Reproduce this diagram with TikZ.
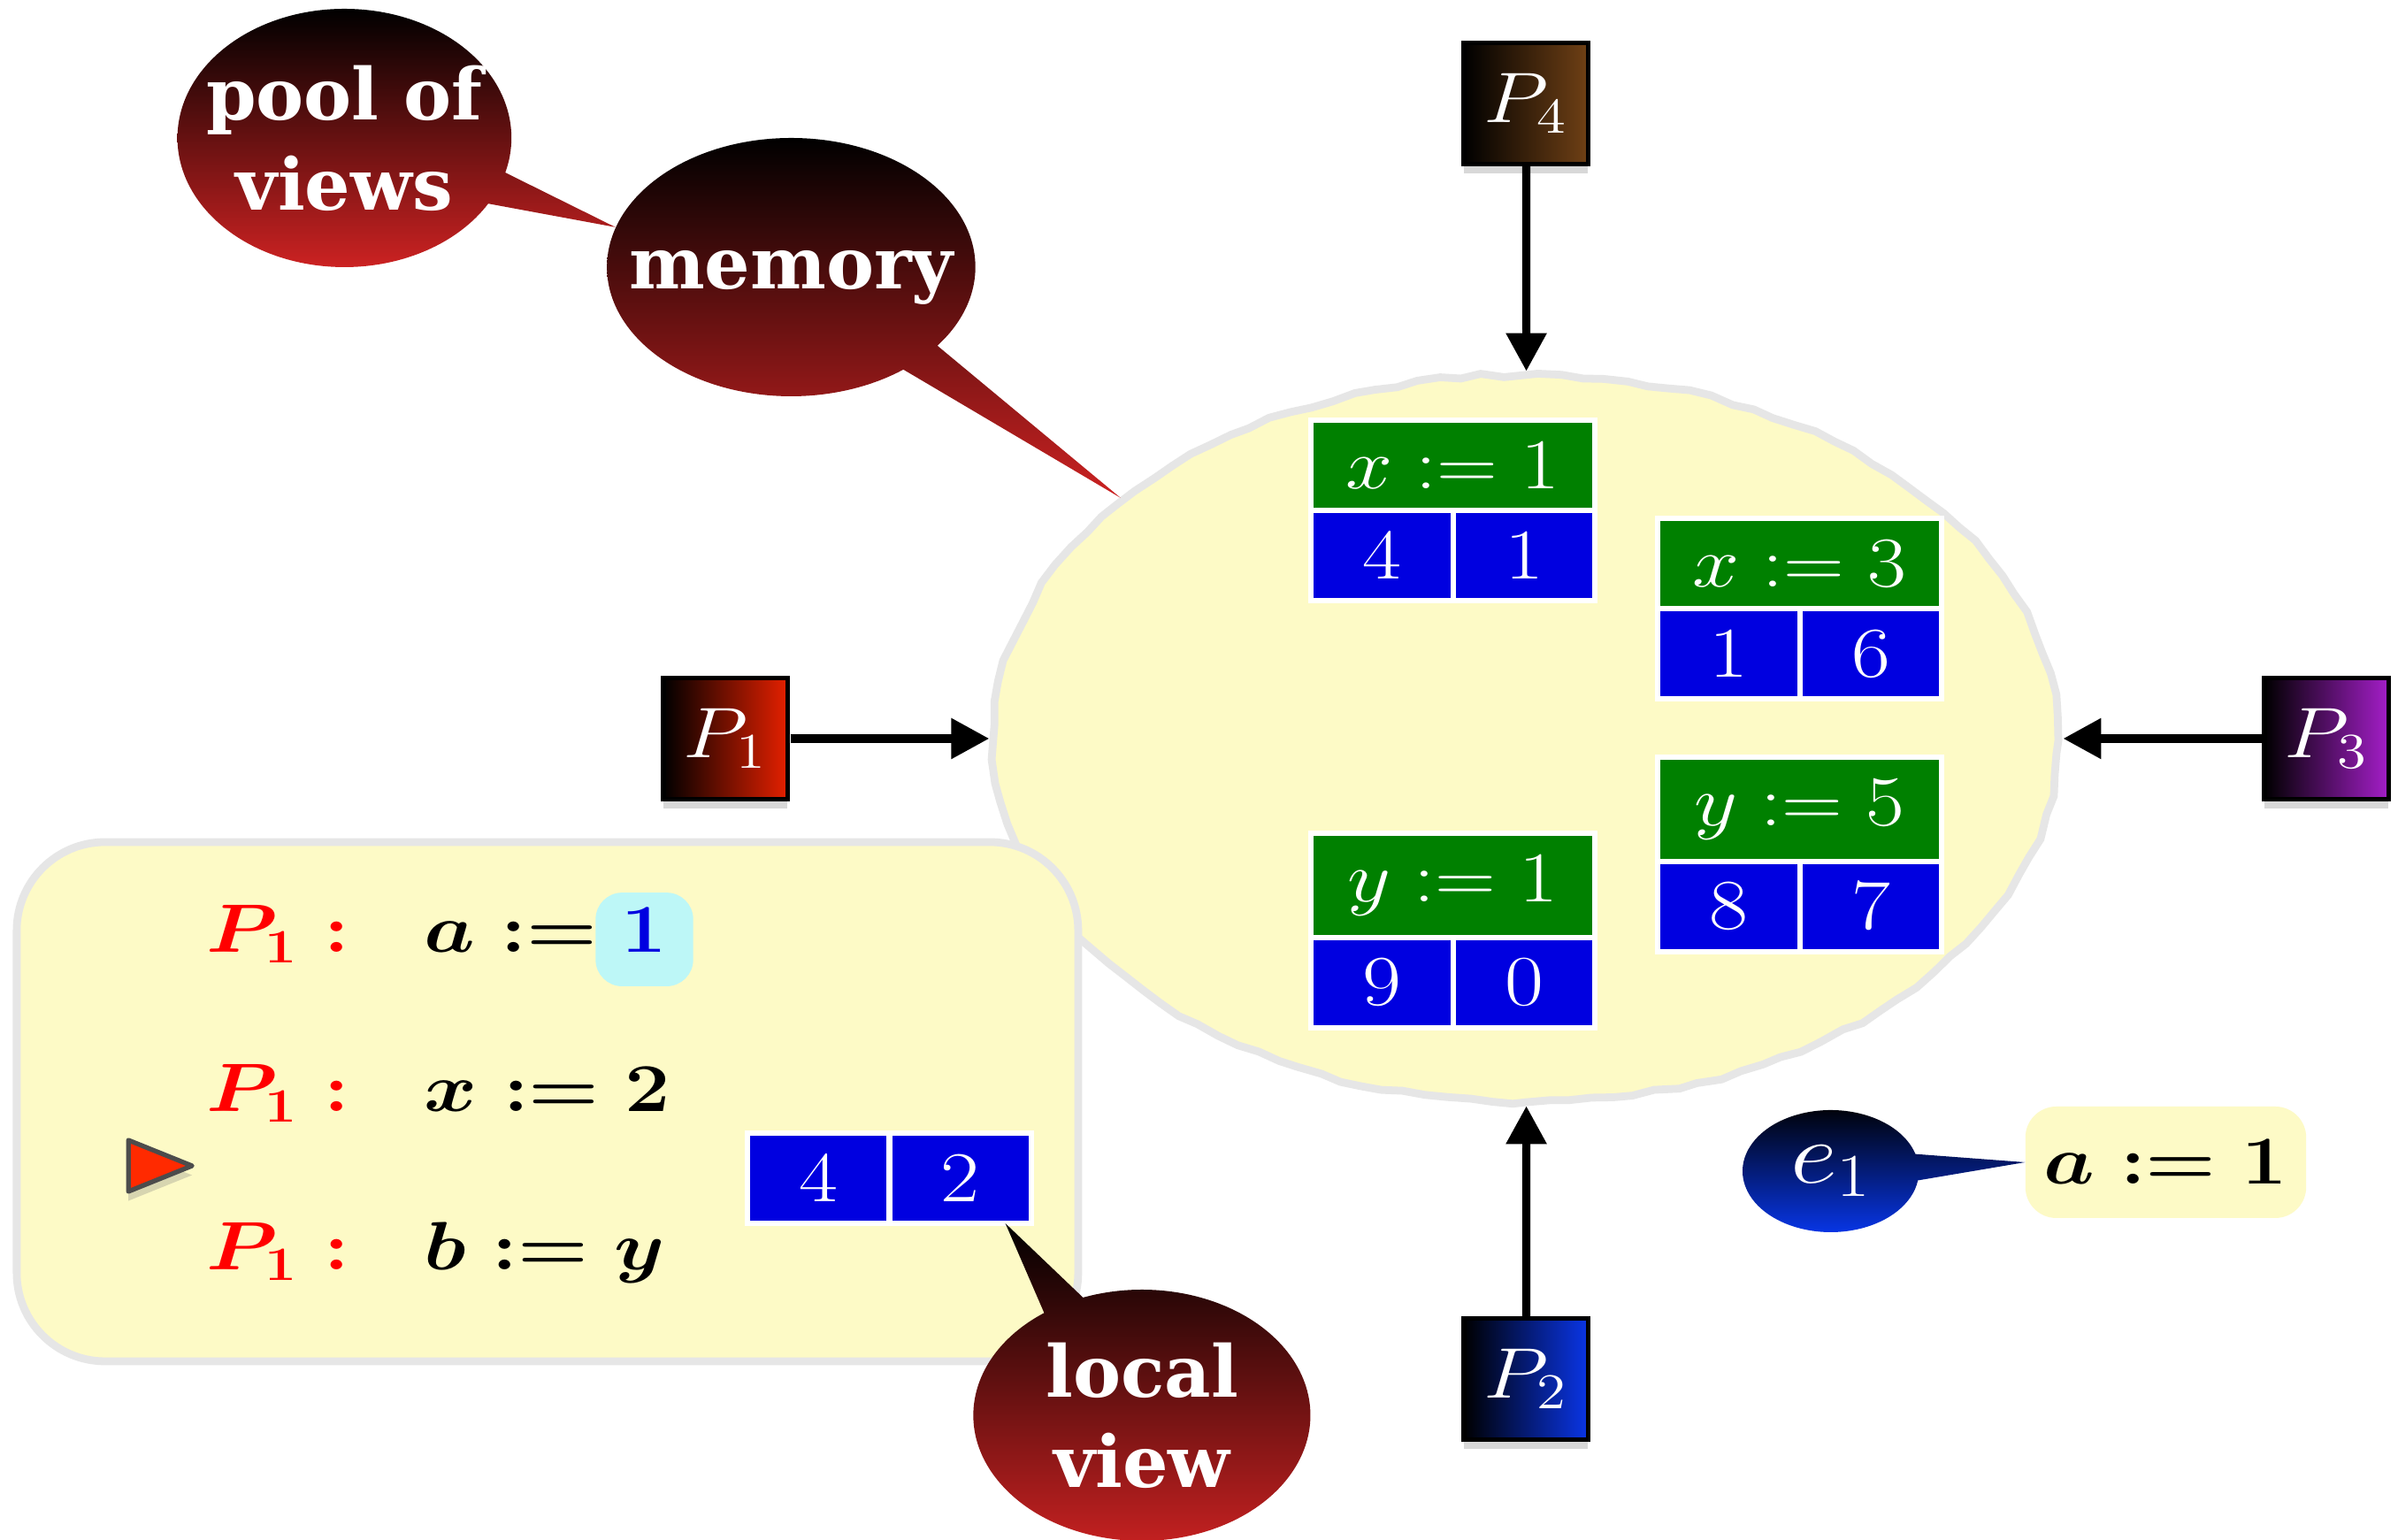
\RequirePackage{fix-cm}
\documentclass[tikz,border=0pt]{standalone}
\usepackage{fontspec}
\usepackage{tikz}
\usetikzlibrary{arrows.meta,positioning,shapes.geometric,shapes.callouts,shadows,decorations.pathmorphing}
\newfontfamily\bubblefont{DejaVu Serif}[FakeStretch=0.85]
\definecolor{memfill}{HTML}{FDFAC6}
\definecolor{rimgrey}{HTML}{E6E6E6}
\definecolor{cellgreen}{HTML}{008000}
\definecolor{cellblue}{HTML}{0000E0}
\definecolor{hlcyan}{HTML}{BDF7F7}
\definecolor{bubred}{HTML}{CC2222}
\definecolor{bubblue}{HTML}{0838F0}
\definecolor{pfour}{HTML}{6F4015}
\definecolor{pone}{HTML}{E42000}
\definecolor{pthree}{HTML}{A41EC8}
\definecolor{ptwo}{HTML}{0A35E6}
\definecolor{marker}{HTML}{FF2A00}

\begin{document}
\pgfmathsetseed{7}
\begin{tikzpicture}[xscale=1.18,every node/.append style={transform shape},
 cloud/.style={draw=rimgrey,line width=2.5pt,fill=memfill},
 wobble/.style={decorate,decoration={random steps,segment length=7pt,amplitude=0.7pt}},
 proc/.style={draw=black,line width=1.5pt,minimum width=1.19cm,minimum height=1.37cm,inner sep=0pt,
   text=white,font=\fontsize{23}{27}\selectfont,left color=black,
   drop shadow={shadow xshift=0pt,shadow yshift=-3pt,opacity=0.3}},
 hdr/.style={fill=cellgreen,draw=white,line width=1.7pt,outer sep=0pt,anchor=north west,
   minimum width=2.72cm,inner xsep=0pt,inner ysep=0.25cm,text=white,font=\fontsize{23}{27}\selectfont},
 cell/.style={fill=cellblue,draw=white,line width=1.7pt,outer sep=0pt,
   minimum width=1.36cm,inner xsep=0pt,inner ysep=0.25cm,text=white,font=\fontsize{23}{27}\selectfont},
 flow/.style={-{Triangle[length=4.3mm,width=4.4mm]},line width=2.6pt},
 bubble/.style={ellipse callout,inner sep=0pt,top color=black,bottom color=bubred},
 bubtext/.style={text=white,align=center,inner sep=0pt,font=\bubblefont\bfseries\fontsize{23}{29}\selectfont},
 stmt/.style={anchor=base west,inner sep=0pt,font=\fontsize{22}{26}\selectfont\boldmath}]
\path[use as bounding box,fill=white] (0,0) rectangle (22.975,17.41);

\node[cloud,wobble,ellipse,minimum width=10.2cm,minimum height=8.22cm] (mem) at (14.62,9.06) {};

\node[proc,right color=pfour] (p4) at (14.62,16.24) {$P_4$};
\node[proc,right color=pone] (p1) at (6.95,9.06) {$P_1$};
\node[proc,right color=pthree] (p3) at (22.29,9.06) {$P_3$};
\node[proc,right color=ptwo] (p2) at (14.62,1.82) {$P_2$};
\foreach \p in {p1,p2,p3,p4} {\draw[flow] (\p) -- (mem);}

\foreach \n/\x/\y/\lbl/\va/\vb in {tx1/12.56/12.66/x:=1/4/1, tx3/15.88/11.55/x:=3/1/6,
   ty5/15.88/8.85/y:=5/8/7, ty1/12.56/7.99/y:=1/9/0} {
  \node[hdr] (\n) at (\x,\y) {$\lbl$};
  \node[cell,anchor=north west] (\n a) at (\n.south west) {$\va$};
  \node[cell,anchor=north east] (\n b) at (\n.south east) {$\vb$};
}

\node[cloud,rectangle,rounded corners=1cm,minimum width=10.17cm,minimum height=5.87cm] (lv) at (5.245,4.955) {};
\node[stmt,text=red] (l1) at (1.97,6.64) {$P_1 :$};
\node[stmt] (s1) at (4.06,6.64) {$a :=$};
\node[anchor=base west,fill=hlcyan,rounded corners=0.3cm,inner xsep=0.25cm,inner ysep=0.18cm,
  text depth=0.2cm,text=cellblue,font=\fontsize{22}{26}\selectfont\boldmath] (hl) at ([xshift=-0.3mm]s1.base east) {$1$};
\node[stmt,text=red] (l2) at (1.97,4.84) {$P_1 :$};
\node[stmt] (s2) at (4.06,4.84) {$x := 2$};
\node[stmt,text=red] (l3) at (1.97,3.05) {$P_1 :$};
\node[stmt] (s3) at (4.06,3.05) {$b := y$};
\draw[fill=marker,draw=gray!60!black,line width=1.5pt,line join=round,
  drop shadow={shadow xshift=0pt,shadow yshift=-3pt,opacity=0.3}] (1.23,4.52) -- (1.84,4.23) -- (1.23,3.94) -- cycle;
\node[cell,anchor=north west] (lva) at (7.16,4.60) {$4$};
\node[cell,right=0pt of lva] (lvb) {$2$};

\node[bubble,minimum width=3.53cm,minimum height=2.92cm,callout absolute pointer={(mem.145)}] (memb) at (7.58,14.39) {};
\node[bubtext,yshift=-0.12cm] (memt) at (memb.center) {memory};
\node[bubble,minimum width=3.2cm,minimum height=2.92cm,callout absolute pointer={(memb.165)}] (pool) at (3.30,15.85) {};
\node[bubtext] (poolt) at (pool.center) {pool of\\views};
\node[bubble,minimum width=3.23cm,minimum height=2.84cm,callout absolute pointer={([xshift=-2.5mm]lvb.south east)}] (lvbub) at (10.94,1.41) {};
\node[bubtext] (lvt) at (lvbub.center) {local\\view};

\node[fill=memfill,rounded corners=0.35cm,minimum width=2.69cm,minimum height=1.26cm,
  font=\fontsize{22}{26}\selectfont\boldmath] (abox) at (20.75,4.27) {$a := 1$};
\node[bubble,bottom color=bubblue,callout pointer arc=25,minimum width=1.69cm,minimum height=1.38cm,
  callout absolute pointer={(abox.west)}] (e1) at (17.54,4.17) {};
\node[text=white,inner sep=0pt,font=\fontsize{28}{32}\selectfont] (e1t) at (e1.center) {$e_1$};
\end{tikzpicture}
\end{document}
